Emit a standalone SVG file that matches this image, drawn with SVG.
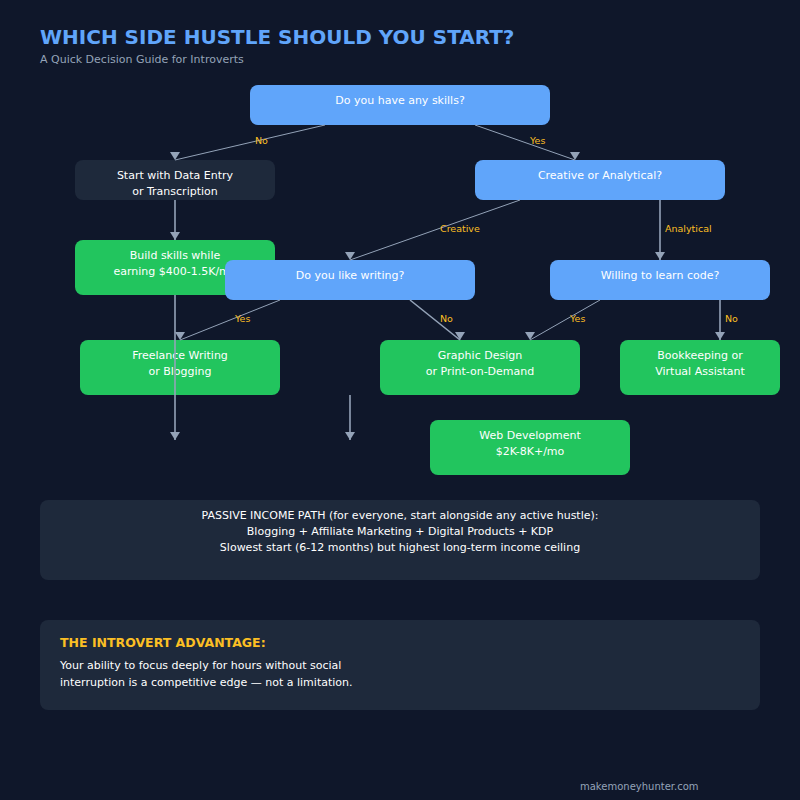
<svg xmlns="http://www.w3.org/2000/svg" width="800" height="800" viewBox="0 0 800 800">
<style>
text{font-family:"DejaVu Sans",sans-serif}
.q{fill:#60a5fa}
.g{fill:#22c55e}
.d{fill:#1e293b}
.t{fill:#ffffff;font-size:11px;text-anchor:middle}
.l{fill:#fbbf24;font-size:9.5px}
.c{stroke:#94a3b8;stroke-width:1;fill:none;marker-end:url(#ah)}
.c2{stroke:#94a3b8;stroke-width:1.6;fill:none;marker-end:url(#ah)}
</style>
<defs>
<marker id="ah" markerUnits="userSpaceOnUse" markerWidth="12" markerHeight="10" refX="5" refY="8" orient="0"><path d="M0,0 L10,0 L5,8 Z" fill="#94a3b8"/></marker>
</defs>
<rect width="800" height="800" fill="#0f172a"/>
<text x="40" y="44" font-size="20" font-weight="bold" fill="#60a5fa">WHICH SIDE HUSTLE SHOULD YOU START?</text>
<text x="40" y="63" font-size="11" fill="#94a3b8">A Quick Decision Guide for Introverts</text>
<g id="q1"><rect class="q" x="250" y="85" width="300" height="40" rx="8"/><text class="t" x="400" y="104">Do you have any skills?</text></g>
<g id="dataentry"><rect class="d" x="75" y="160" width="200" height="40" rx="8"/><text class="t" x="175" y="179">Start with Data Entry</text><text class="t" x="175" y="195">or Transcription</text></g>
<g id="creative"><rect class="q" x="475" y="160" width="250" height="40" rx="8"/><text class="t" x="600" y="179">Creative or Analytical?</text></g>
<g id="build"><rect class="g" x="75" y="240" width="200" height="55" rx="8"/><text class="t" x="175" y="259">Build skills while</text><text class="t" x="175" y="275">earning $400-1.5K/mo</text></g>
<g id="writing"><rect class="q" x="225" y="260" width="250" height="40" rx="8"/><text class="t" x="350" y="279">Do you like writing?</text></g>
<g id="code"><rect class="q" x="550" y="260" width="220" height="40" rx="8"/><text class="t" x="660" y="279">Willing to learn code?</text></g>
<g id="freelance"><rect class="g" x="80" y="340" width="200" height="55" rx="8"/><text class="t" x="180" y="359">Freelance Writing</text><text class="t" x="180" y="375">or Blogging</text></g>
<g id="graphic"><rect class="g" x="380" y="340" width="200" height="55" rx="8"/><text class="t" x="480" y="359">Graphic Design</text><text class="t" x="480" y="375">or Print-on-Demand</text></g>
<g id="bookkeeping"><rect class="g" x="620" y="340" width="160" height="55" rx="8"/><text class="t" x="700" y="359">Bookkeeping or</text><text class="t" x="700" y="375">Virtual Assistant</text></g>
<g id="webdev"><rect class="g" x="430" y="420" width="200" height="55" rx="8"/><text class="t" x="530" y="439">Web Development</text><text class="t" x="530" y="455">$2K-8K+/mo</text></g>
<g id="connectors">
<line class="c" x1="325" y1="125" x2="175" y2="160"/>
<line class="c" x1="475" y1="125" x2="575" y2="160"/>
<line class="c2" x1="175" y1="200" x2="175" y2="240"/>
<line class="c" x1="520" y1="200" x2="350" y2="260"/>
<line class="c2" x1="660" y1="200" x2="660" y2="260"/>
<line class="c" x1="280" y1="300" x2="180" y2="340"/>
<line class="c2" x1="410" y1="300" x2="460" y2="340"/>
<line class="c" x1="600" y1="300" x2="530" y2="340"/>
<line class="c2" x1="720" y1="300" x2="720" y2="340"/>
<line class="c2" x1="175" y1="295" x2="175" y2="440"/>
<line class="c2" x1="350" y1="395" x2="350" y2="440"/>
<text class="l" x="255" y="144">No</text>
<text class="l" x="530" y="144">Yes</text>
<text class="l" x="440" y="232">Creative</text>
<text class="l" x="665" y="232">Analytical</text>
<text class="l" x="235" y="322">Yes</text>
<text class="l" x="440" y="322">No</text>
<text class="l" x="570" y="322">Yes</text>
<text class="l" x="725" y="322">No</text>
</g>
<g id="passive"><rect class="d" x="40" y="500" width="720" height="80" rx="8"/>
<text class="t" x="400" y="519">PASSIVE INCOME PATH (for everyone, start alongside any active hustle):</text>
<text class="t" x="400" y="535">Blogging + Affiliate Marketing + Digital Products + KDP</text>
<text class="t" x="400" y="551">Slowest start (6-12 months) but highest long-term income ceiling</text></g>
<g id="advantage"><rect class="d" x="40" y="620" width="720" height="90" rx="8"/>
<text x="60" y="647" font-size="12.5" font-weight="bold" fill="#fbbf24">THE INTROVERT ADVANTAGE:</text>
<text x="60" y="669" font-size="11" fill="#ffffff">Your ability to focus deeply for hours without social</text>
<text x="60" y="686" font-size="11" fill="#ffffff">interruption is a competitive edge — not a limitation.</text></g>
<text x="580" y="790" font-size="10" fill="#94a3b8">makemoneyhunter.com</text>
</svg>
